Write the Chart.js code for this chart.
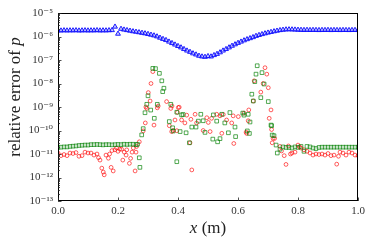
<!DOCTYPE html>
<html>
<head>
<meta charset="utf-8">
<script src="https://cdn.jsdelivr.net/npm/chart.js@4.4.1/dist/chart.umd.min.js"></script>
<style>
  html, body { margin: 0; padding: 0; background: #fff; }
  #wrap { width: 374px; height: 249px; }
</style>
</head>
<body>
<div id="wrap"><canvas id="c" width="374" height="249"></canvas></div>
<script>
// x grid of the blue series (sample positions)
const blueX = Array.from({ length: 101 }, (_, i) => i / 100);
// relative error, blue triangles
const blueY = [
  1.80e-6, 1.78e-6, 1.82e-6, 1.79e-6, 1.81e-6, 1.80e-6, 1.83e-6, 1.78e-6, 1.80e-6, 1.82e-6,
  1.79e-6, 1.81e-6, 1.80e-6, 1.84e-6, 1.79e-6, 1.81e-6, 1.80e-6, 1.83e-6, 1.85e-6,
  2.6e-6, 1.3e-6, 2.1e-6, 1.95e-6, 1.85e-6, 1.75e-6, 1.65e-6, 1.58e-6, 1.5e-6, 1.42e-6,
  1.35e-6, 1.27e-6, 1.18e-6, 1.1e-6, 1.0e-6, 8.8e-7, 7.8e-7, 7.0e-7, 6.0e-7, 5.2e-7,
  4.5e-7, 3.9e-7, 3.4e-7, 2.9e-7, 2.5e-7, 2.2e-7, 1.9e-7, 1.7e-7, 1.5e-7, 1.4e-7,
  1.35e-7, 1.45e-7, 1.4e-7, 1.6e-7, 1.8e-7, 2.1e-7, 2.5e-7, 2.9e-7, 3.4e-7, 4.0e-7,
  4.6e-7, 5.3e-7, 6.0e-7, 6.8e-7, 7.6e-7, 8.4e-7, 9.3e-7, 1.05e-6, 1.15e-6, 1.25e-6,
  1.35e-6, 1.45e-6, 1.55e-6, 1.65e-6, 1.75e-6, 1.85e-6, 1.92e-6, 1.98e-6, 2.0e-6, 1.98e-6,
  1.95e-6, 1.92e-6, 1.9e-6, 1.88e-6, 1.9e-6, 1.87e-6, 1.89e-6, 1.88e-6, 1.86e-6, 1.88e-6,
  1.87e-6, 1.89e-6, 1.86e-6, 1.88e-6, 1.87e-6, 1.86e-6, 1.88e-6, 1.87e-6, 1.86e-6, 1.87e-6,
  1.88e-6, 1.86e-6
];
// green squares [x, error]
const greenPoints = [
  [0.00,1.9e-11],[0.01,1.95e-11],[0.02,2.0e-11],[0.03,2.0e-11],[0.04,2.1e-11],[0.05,2.15e-11],
  [0.06,2.2e-11],[0.07,2.3e-11],[0.08,2.35e-11],[0.09,2.4e-11],[0.10,2.4e-11],[0.11,2.5e-11],
  [0.12,2.5e-11],[0.13,2.55e-11],[0.14,2.5e-11],[0.15,2.45e-11],[0.16,2.5e-11],[0.17,2.5e-11],
  [0.18,2.45e-11],[0.19,2.5e-11],[0.20,2.55e-11],[0.21,2.5e-11],[0.22,2.6e-11],[0.23,2.55e-11],
  [0.24,2.6e-11],[0.25,2.6e-11],[0.26,2.5e-11],[0.265,2.6e-11],
  [0.271,6.9e-12],[0.273,2.7e-12],[0.279,6.5e-11],[0.284,1.2e-10],[0.29,5.7e-10],[0.296,1.3e-9],
  [0.30,3.0e-9],[0.309,7.4e-10],[0.316,4.4e-8],[0.321,3.3e-10],[0.325,4.3e-8],[0.331,1.3e-9],
  [0.338,2.7e-8],[0.346,1.3e-8],[0.349,4.5e-9],[0.353,6.3e-9],[0.371,2.4e-10],[0.376,1.3e-9],
  [0.382,1.3e-10],[0.384,9.5e-11],[0.396,6.0e-10],[0.396,4.7e-12],[0.407,9.0e-11],[0.412,4.6e-10],
  [0.417,4.8e-10],[0.427,8.0e-11],[0.438,3.0e-11],[0.446,1.4e-10],[0.46,1.4e-10],[0.468,2.5e-10],
  [0.476,4.9e-10],[0.484,2.6e-10],[0.49,8.3e-11],[0.516,4.3e-11],[0.518,4.6e-10],[0.529,2.5e-10],
  [0.532,3.3e-11],[0.54,4.5e-11],[0.546,4.9e-10],[0.556,2.1e-10],[0.568,8.0e-11],[0.573,5.8e-10],
  [0.59,1.4e-10],[0.592,5.5e-11],[0.616,5.5e-10],[0.62,4.5e-10],[0.631,9.6e-11],[0.634,4.9e-10],
  [0.638,7.5e-11],[0.64,2.3e-10],[0.646,3.5e-9],[0.651,1.8e-9],[0.656,1.2e-8],[0.66,2.5e-8],
  [0.664,5.7e-8],[0.676,2.5e-9],[0.68,2.9e-8],[0.687,9.5e-9],[0.701,1.7e-9],[0.71,1.7e-10],
  [0.712,1.6e-10],[0.714,6.4e-11],[0.72,6.0e-11],[0.727,2.4e-11],[0.731,1.1e-11],[0.74,1.6e-11],
  [0.75,2.0e-11],[0.76,1.9e-11],[0.77,1.9e-11],[0.78,1.8e-11],[0.79,2.0e-11],[0.80,1.9e-11],
  [0.81,2.1e-11],[0.82,1.3e-11],[0.83,2.1e-11],[0.84,2.0e-11],[0.85,1.8e-11],[0.86,1.7e-11],
  [0.87,1.9e-11],[0.88,1.95e-11],[0.89,1.95e-11],[0.90,1.95e-11],[0.91,1.95e-11],[0.92,1.95e-11],
  [0.93,1.95e-11],[0.94,1.95e-11],[0.95,1.95e-11],[0.96,1.95e-11],[0.97,1.95e-11],[0.98,1.95e-11],
  [0.99,1.95e-11],[1.00,1.95e-11]
];
// red circles [x, error]
const redPoints = [
  [0.00,1.1e-11],[0.01,8.5e-12],[0.02,9.5e-12],[0.03,8.5e-12],[0.04,1.1e-11],[0.05,1.05e-11],
  [0.06,1.15e-11],[0.07,8e-12],[0.08,8.5e-12],[0.09,1.2e-11],[0.10,1.1e-11],[0.11,1.1e-11],
  [0.12,9e-12],[0.13,1.0e-11],[0.135,7e-12],[0.14,5.5e-12],[0.146,2.5e-12],[0.151,1.7e-12],
  [0.154,1.3e-12],[0.16,9e-12],[0.168,6.6e-12],[0.172,1.0e-11],[0.177,2.7e-12],[0.18,1.4e-11],
  [0.184,1.9e-12],[0.19,1.5e-11],[0.195,1.8e-11],[0.20,1.3e-11],[0.206,1.6e-11],[0.212,1.6e-11],
  [0.216,5.5e-12],[0.221,1.2e-11],[0.227,9e-12],[0.229,1.5e-11],[0.238,4e-12],[0.242,6.5e-12],
  [0.247,1.2e-11],[0.251,1.8e-11],[0.257,1.9e-12],[0.26,1.2e-11],[0.262,2.1e-11],[0.271,3.3e-11],
  [0.284,9.6e-11],[0.291,2.1e-10],[0.293,1e-9],[0.296,8.7e-10],[0.301,4.1e-9],[0.307,1.8e-9],
  [0.31,1e-8],[0.316,3.2e-8],[0.32,1.7e-10],[0.331,9.2e-10],[0.334,1.1e-9],[0.362,1.7e-9],
  [0.371,1.6e-10],[0.376,8.7e-10],[0.379,9e-11],[0.38,1.1e-9],[0.384,1e-10],[0.39,2.8e-10],
  [0.396,9.8e-11],[0.398,5.9e-10],[0.401,9.5e-10],[0.404,9.8e-10],[0.412,2.8e-10],[0.423,2.1e-10],
  [0.429,4.5e-10],[0.44,3e-11],[0.443,3e-10],[0.446,2.1e-12],[0.457,4.9e-10],[0.462,2.1e-10],
  [0.484,1e-10],[0.496,3.5e-10],[0.501,2.2e-10],[0.507,9e-11],[0.512,3.3e-10],[0.529,4.9e-10],
  [0.54,4.2e-10],[0.546,7.6e-11],[0.551,4.8e-10],[0.562,2.8e-10],[0.579,2.1e-10],[0.584,4.2e-10],
  [0.586,2.8e-11],[0.601,3.9e-10],[0.62,5.5e-10],[0.627,8.5e-11],[0.629,7.5e-11],[0.634,2.6e-10],
  [0.636,7.5e-10],[0.651,1.8e-9],[0.654,1.3e-8],[0.676,4.3e-9],[0.684,1e-8],[0.69,4.7e-8],
  [0.696,2.5e-8],[0.701,6.6e-9],[0.704,3.3e-10],[0.71,7.5e-10],[0.712,1.1e-10],[0.714,3e-11],
  [0.717,4.6e-11],[0.722,4.6e-11],[0.74,2.1e-11],[0.745,1.35e-11],[0.754,8.5e-12],[0.76,3.6e-12],
  [0.768,2.2e-11],[0.775,1.0e-11],[0.78,1.1e-11],[0.79,1.2e-11],[0.80,2.4e-11],[0.805,2.0e-11],
  [0.81,1.8e-11],[0.82,1.5e-11],[0.83,1.3e-11],[0.84,1.1e-11],[0.85,9e-12],[0.86,1.0e-11],
  [0.87,9.5e-12],[0.88,1.0e-11],[0.89,9e-12],[0.90,1.05e-11],[0.91,8.5e-12],[0.92,9e-12],
  [0.929,3.7e-12],[0.935,8e-12],[0.94,1.2e-11],[0.95,1.1e-11],[0.96,9e-12],[0.97,1.2e-11],
  [0.98,1.1e-11],[0.99,9e-12],[1.00,8.5e-12]
];
// axis ticks
const xTicks = [0, 0.2, 0.4, 0.6, 0.8, 1.0];
const yTicks = [1e-13, 1e-12, 1e-11, 1e-10, 1e-9, 1e-8, 1e-7, 1e-6, 1e-5];
const yTickLabels = ['10⁻¹³', '10⁻¹²', '10⁻¹¹', '10⁻¹⁰', '10⁻⁹', '10⁻⁸', '10⁻⁷', '10⁻⁶', '10⁻⁵'];

const serif = '"Liberation Serif", "DejaVu Serif", serif';

// frame, inward ticks and axis titles
const framePlugin = {
  id: 'frame',
  afterDraw(chart) {
    const { ctx, chartArea: a } = chart;
    const xs = chart.scales.x, ys = chart.scales.y;
    ctx.save();
    ctx.strokeStyle = '#000';
    ctx.lineWidth = 1;
    ctx.strokeRect(Math.round(a.left) + 0.5, Math.round(a.top) + 0.5,
      Math.round(a.right - a.left) - 1, Math.round(a.bottom - a.top) - 1);
    ctx.beginPath();
    ctx.strokeStyle = '#222';
    ctx.lineWidth = 0.8;
    xTicks.forEach(v => {
      const px = Math.round(xs.getPixelForValue(v)) + 0.5;
      ctx.moveTo(px, a.bottom);
      ctx.lineTo(px, a.bottom - 3.5);
    });
    yTicks.forEach((v, i) => {
      const py = Math.round(ys.getPixelForValue(v)) + 0.5;
      ctx.moveTo(a.left, py);
      ctx.lineTo(a.left + 3.5, py);
      if (i < yTicks.length - 1) {
        for (let m = 2; m <= 9; m++) {
          const pm = Math.round(ys.getPixelForValue(v * m)) + 0.5;
          ctx.moveTo(a.left, pm);
          ctx.lineTo(a.left + 2, pm);
        }
      }
    });
    ctx.stroke();

    // axis titles
    ctx.fillStyle = '#222';
    ctx.textBaseline = 'alphabetic';
    const roman = '17px ' + serif, ital = 'italic 17px ' + serif;
    // y title
    ctx.save();
    ctx.translate(20, (a.top + a.bottom) / 2 - 10);
    ctx.rotate(-Math.PI / 2);
    ctx.font = roman;
    const t1 = 'relative error of ';
    const w1 = ctx.measureText(t1).width;
    ctx.font = ital;
    const w2 = ctx.measureText('p').width;
    let sx = -(w1 + w2) / 2;
    ctx.font = roman;
    ctx.fillText(t1, sx, 0);
    ctx.font = ital;
    ctx.fillText('p', sx + w1, 0);
    ctx.restore();
    // x title
    ctx.font = ital;
    const wx = ctx.measureText('x').width;
    ctx.font = roman;
    const wm = ctx.measureText(' (m)').width;
    sx = (a.left + a.right) / 2 - (wx + wm) / 2;
    ctx.font = ital;
    ctx.fillText('x', sx, 233);
    ctx.font = roman;
    ctx.fillText(' (m)', sx + wx, 233);
    ctx.restore();
  }
};

new Chart(document.getElementById('c'), {
  type: 'scatter',
  data: {
    datasets: [
      {
        data: blueX.map((x, i) => ({ x, y: blueY[i] })),
        pointStyle: 'triangle',
        pointRadius: 2.8,
        borderWidth: 1,
        borderColor: 'rgba(10,10,255,0.9)',
        backgroundColor: 'rgba(90,90,255,0.35)'
      },
      {
        data: greenPoints.map(p => ({ x: p[0], y: p[1] })),
        pointStyle: 'rect',
        pointRadius: 2.6,
        borderWidth: 0.9,
        borderColor: 'rgba(0,128,0,0.75)',
        backgroundColor: 'rgba(0,0,0,0)'
      },
      {
        data: redPoints.map(p => ({ x: p[0], y: p[1] })),
        pointStyle: 'circle',
        pointRadius: 1.9,
        borderWidth: 0.8,
        borderColor: 'rgba(255,0,0,0.8)',
        backgroundColor: 'rgba(0,0,0,0)'
      }
    ]
  },
  options: {
    responsive: false,
    animation: false,
    layout: { padding: { top: 13, right: 16, left: 0, bottom: 0 } },
    plugins: { legend: { display: false }, tooltip: { enabled: false } },
    scales: {
      x: {
        type: 'linear',
        min: 0,
        max: 1,
        afterBuildTicks: s => { s.ticks = xTicks.map(v => ({ value: v })); },
        afterFit: s => { s.height = 48; },
        grid: { display: false, drawTicks: false },
        border: { display: false },
        ticks: {
          callback: v => v.toFixed(1),
          font: { family: serif, size: 11 },
          color: '#333',
          padding: 4,
          maxRotation: 0
        }
      },
      y: {
        type: 'logarithmic',
        min: 1e-13,
        max: 1e-5,
        afterBuildTicks: s => { s.ticks = yTicks.map(v => ({ value: v })); },
        afterFit: s => { s.width = 58; },
        grid: { display: false, drawTicks: false },
        border: { display: false },
        ticks: {
          callback: (v, i) => yTickLabels[i],
          font: { family: serif, size: 11 },
          color: '#333',
          padding: 5
        }
      }
    }
  },
  plugins: [framePlugin]
});
</script>
</body>
</html>
